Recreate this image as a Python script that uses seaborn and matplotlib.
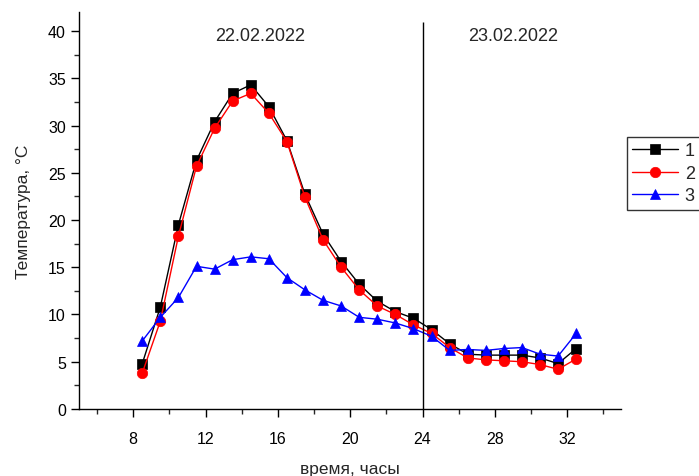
import numpy as np
import pandas as pd
import matplotlib
matplotlib.use("Agg")
import matplotlib.pyplot as plt
from matplotlib.ticker import MultipleLocator
import seaborn as sns

# Measurement times (hours, counted from midnight of 22.02.2022)
hours = [8.5, 9.5, 10.5, 11.5, 12.5, 13.5, 14.5, 15.5, 16.5, 17.5, 18.5, 19.5,
         20.5, 21.5, 22.5, 23.5, 24.5, 25.5, 26.5, 27.5, 28.5, 29.5, 30.5,
         31.5, 32.5]

# Temperatures, °C
temp_1 = [4.8, 10.8, 19.5, 26.3, 30.4, 33.4, 34.3, 32.0, 28.4, 22.7, 18.5, 15.6,
          13.2, 11.4, 10.3, 9.6, 8.4, 6.9, 5.8, 5.7, 5.7, 5.7, 5.4, 4.8, 6.4]
temp_2 = [3.8, 9.3, 18.3, 25.7, 29.7, 32.6, 33.4, 31.3, 28.3, 22.4, 17.9, 15.0,
          12.6, 10.9, 10.0, 8.9, 8.0, 6.5, 5.4, 5.2, 5.1, 5.0, 4.7, 4.2, 5.3]
temp_3 = [7.2, 9.7, 11.8, 15.1, 14.8, 15.8, 16.1, 15.9, 13.9, 12.6, 11.5, 10.9,
          9.7, 9.5, 9.1, 8.5, 7.7, 6.2, 6.3, 6.2, 6.4, 6.5, 5.8, 5.6, 8.0]

series_names = ["1", "2", "3"]
series_colors = ["black", "red", "blue"]
series_markers = ["s", "o", "^"]
marker_sizes = [6.5, 7.5, 7.5]

day_labels = ["22.02.2022", "23.02.2022"]
day_label_x = [15, 29]
day_boundary = 24

df = pd.concat([
    pd.DataFrame({"hours": hours, "temp": vals, "series": name})
    for name, vals in zip(series_names, [temp_1, temp_2, temp_3])
], ignore_index=True)

sns.set_style("ticks")
plt.rcParams["font.family"] = ["Liberation Sans", "DejaVu Sans"]

fig = plt.figure(figsize=(6.99, 4.77), dpi=100)
ax = fig.add_axes([0.113, 0.1405, 0.776, 0.832])

for name, color, marker, ms in zip(series_names, series_colors, series_markers, marker_sizes):
    sub = df[df["series"] == name]
    sns.lineplot(data=sub, x="hours", y="temp", ax=ax, color=color,
                 marker=marker, markersize=ms, markeredgecolor=color,
                 markeredgewidth=0.5, linewidth=1.0, label=name)

ax.vlines(day_boundary, 0, 41, color="black", linewidth=1.0)
for lbl, xpos in zip(day_labels, day_label_x):
    ax.text(xpos, 39.5, lbl, ha="center", va="center", fontsize=13)

ax.set_xlim(5, 35)
ax.set_ylim(0, 42)
ax.xaxis.set_major_locator(MultipleLocator(4))
ax.xaxis.set_minor_locator(MultipleLocator(2))
ax.yaxis.set_major_locator(MultipleLocator(5))
ax.yaxis.set_minor_locator(MultipleLocator(2.5))
ax.set_xticks([8, 12, 16, 20, 24, 28, 32])
ax.tick_params(which="major", direction="out", length=6, width=1.0,
               labelsize=11.5, colors="black")
ax.tick_params(which="minor", direction="out", length=3.5, width=1.0)
ax.tick_params(axis="x", which="major", pad=10)

for side in ["top", "right"]:
    ax.spines[side].set_visible(False)
for side in ["left", "bottom"]:
    ax.spines[side].set_linewidth(1.0)
    ax.spines[side].set_color("black")

ax.set_xlabel("время, часы", fontsize=12.5, labelpad=11)
ax.set_ylabel("Температура, °C", fontsize=12.5, labelpad=12)

leg = ax.legend(loc="upper left", bbox_to_anchor=(627 / 699, 1 - 138 / 477),
                bbox_transform=fig.transFigure, frameon=True, fancybox=False,
                edgecolor="black", fontsize=13, handlelength=2.55,
                handletextpad=0.35, borderpad=0.3, labelspacing=0.3,
                borderaxespad=0)
leg.get_frame().set_linewidth(1.0)

fig.savefig("out.png", dpi=100)
